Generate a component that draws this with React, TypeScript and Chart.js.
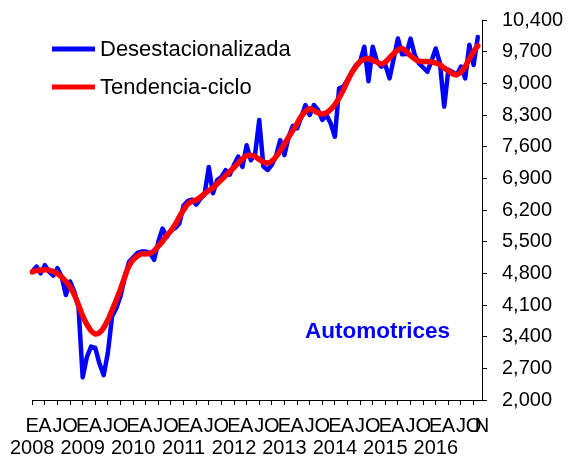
import React, { useEffect, useRef } from 'react';
import { Chart, registerables } from 'chart.js';

Chart.register(...registerables);

const years = ['2008', '2009', '2010', '2011', '2012', '2013', '2014', '2015', '2016'];
const monthLetters = ['E', 'F', 'M', 'A', 'M', 'J', 'J', 'A', 'S', 'O', 'N', 'D'];
const lastLetter = 'N';

const desestacionalizada = [
  4835, 4950, 4800, 4980, 4840, 4750, 4915, 4725, 4320, 4620, 4395, 4060,
  2500, 2950, 3180, 3150, 2800, 2550, 3050, 3850, 4030, 4300, 4700, 5050,
  5150, 5250, 5280, 5280, 5250, 5100, 5500, 5790, 5600, 5750, 5800, 5900,
  6300, 6400, 6430, 6320, 6450, 6550, 7150, 6570, 6860, 6930, 7080, 6980,
  7200, 7380, 7150, 7630, 7300, 7420, 8190, 7160, 7085, 7200, 7400, 7745,
  7415, 7820, 8060, 8005, 8250, 8520, 8300, 8520, 8410, 8190, 8300, 8115,
  7820, 8890, 8925, 9075, 9250, 9400, 9480, 9810, 9045, 9810, 9480, 9370,
  9405, 9110, 9550, 9990, 9640, 9650, 9990, 9625, 9440, 9350, 9255, 9500,
  9770, 9440, 8485, 9300, 9250, 9185, 9370, 9110, 9850, 9405, 10025,
];

const tendenciaCiclo = [
  4830, 4860, 4870, 4880, 4870, 4840, 4790, 4720, 4620, 4500, 4330, 4100,
  3860, 3670, 3530, 3460, 3490, 3600, 3770, 3990, 4210, 4450, 4720, 4960,
  5100, 5180, 5230, 5230, 5240, 5300, 5400, 5510, 5640, 5740, 5880, 6050,
  6200, 6330, 6390, 6420, 6480, 6560, 6630, 6690, 6780, 6870, 6960, 7050,
  7140, 7240, 7330, 7400, 7410, 7380, 7320, 7260, 7240, 7280, 7380, 7510,
  7660, 7810, 7960, 8110, 8270, 8380, 8440, 8400, 8350, 8320, 8350, 8420,
  8530, 8680, 8850, 9050, 9230, 9370, 9480, 9530, 9550, 9510, 9470, 9430,
  9470, 9560, 9660, 9740, 9770, 9700, 9610, 9540, 9490, 9480, 9480, 9470,
  9450, 9410, 9340, 9280, 9210, 9190, 9250, 9370, 9540, 9700, 9830,
];

const yMin = 2000;
const yMax = 10400;
const yStep = 700;

const seriesNames = ['Desestacionalizada', 'Tendencia-ciclo'];
const seriesColors = ['#0000FF', '#FF0000'];
const annotationText = 'Automotrices';

const categories: string[] = [];
years.forEach((y) => monthLetters.forEach((m, k) => categories.push(`${y}-${k + 1}`)));

const FONT = '"Liberation Sans", Arial, sans-serif';

const overlayPlugin = {
  id: 'overlay',
  afterDraw(chart: any) {
    const ctx = chart.ctx;
    ctx.save();
    const rows = [49, 87];
    seriesNames.forEach((name, i) => {
      ctx.strokeStyle = seriesColors[i];
      ctx.lineWidth = 5;
      ctx.lineCap = 'butt';
      ctx.beginPath();
      ctx.moveTo(52, rows[i]);
      ctx.lineTo(95, rows[i]);
      ctx.stroke();
      ctx.fillStyle = '#000';
      ctx.font = `22px ${FONT}`;
      ctx.textBaseline = 'middle';
      ctx.textAlign = 'left';
      ctx.fillText(name, 100, rows[i] + 1);
    });
    ctx.fillStyle = '#0000FF';
    ctx.font = `bold 22.5px ${FONT}`;
    ctx.textBaseline = 'alphabetic';
    ctx.fillText(annotationText, 305, 338);
    ctx.restore();
  },
};

export default function App() {
  const ref = useRef<HTMLCanvasElement | null>(null);

  useEffect(() => {
    if (!ref.current) return;
    const chart = new Chart(ref.current, {
      type: 'line',
      data: {
        labels: categories,
        datasets: [
          {
            label: seriesNames[0],
            data: desestacionalizada,
            borderColor: seriesColors[0],
            backgroundColor: seriesColors[0],
            borderWidth: 4.5,
            pointRadius: 0,
            tension: 0,
            borderJoinStyle: 'round',
            borderCapStyle: 'round',
            order: 1,
          },
          {
            label: seriesNames[1],
            data: tendenciaCiclo,
            borderColor: seriesColors[1],
            backgroundColor: seriesColors[1],
            borderWidth: 5.5,
            pointRadius: 0,
            tension: 0.4,
            borderJoinStyle: 'round',
            borderCapStyle: 'round',
            order: 0,
          },
        ],
      },
      options: {
        animation: false,
        responsive: false,
        devicePixelRatio: 1,
        layout: { padding: { top: 20, left: 29, right: 0, bottom: 0 } },
        plugins: { legend: { display: false }, tooltip: { enabled: false } },
        scales: {
          x: {
            type: 'category',
            offset: false,
            grid: {
              drawOnChartArea: false,
              drawTicks: true,
              tickLength: 5,
              color: (c: any) => (c.index % 3 === 0 && c.index < categories.length - 1 ? '#000' : 'rgba(0,0,0,0)'),
            },
            border: { display: true, color: '#000', width: 1 },
            ticks: {
              autoSkip: false,
              maxRotation: 0,
              minRotation: 0,
              padding: 10,
              color: '#000',
              font: { family: FONT, size: 20, lineHeight: 1.1 },
              callback: (_v: any, i: number) => {
                if (i === categories.length - 1) return lastLetter;
                const m = i % 12;
                if (m % 3 !== 0) return '';
                if (m === 0) return [monthLetters[m], years[Math.floor(i / 12)]];
                return monthLetters[m];
              },
            },
            afterFit: (s: any) => {
              s.height = 59;
            },
          },
          y: {
            type: 'linear',
            position: 'right',
            min: yMin,
            max: yMax,
            grid: { drawOnChartArea: false, tickLength: 5, color: '#000' },
            border: { display: true, color: '#000', width: 1 },
            ticks: {
              stepSize: yStep,
              padding: 15,
              color: '#000',
              font: { family: FONT, size: 20 },
              callback: (v: any) => Number(v).toLocaleString('en-US'),
            },
            afterFit: (s: any) => {
              s.width = 86;
              s.paddingTop = 0;
              s.paddingBottom = 0;
            },
          },
        },
      },
      plugins: [overlayPlugin],
    } as any);
    return () => chart.destroy();
  }, []);

  return (
    <div style={{ position: 'absolute', left: 0, top: 0, width: 568, height: 459, background: '#fff' }}>
      <canvas ref={ref} width={568} height={459} style={{ display: 'block' }} />
    </div>
  );
}
